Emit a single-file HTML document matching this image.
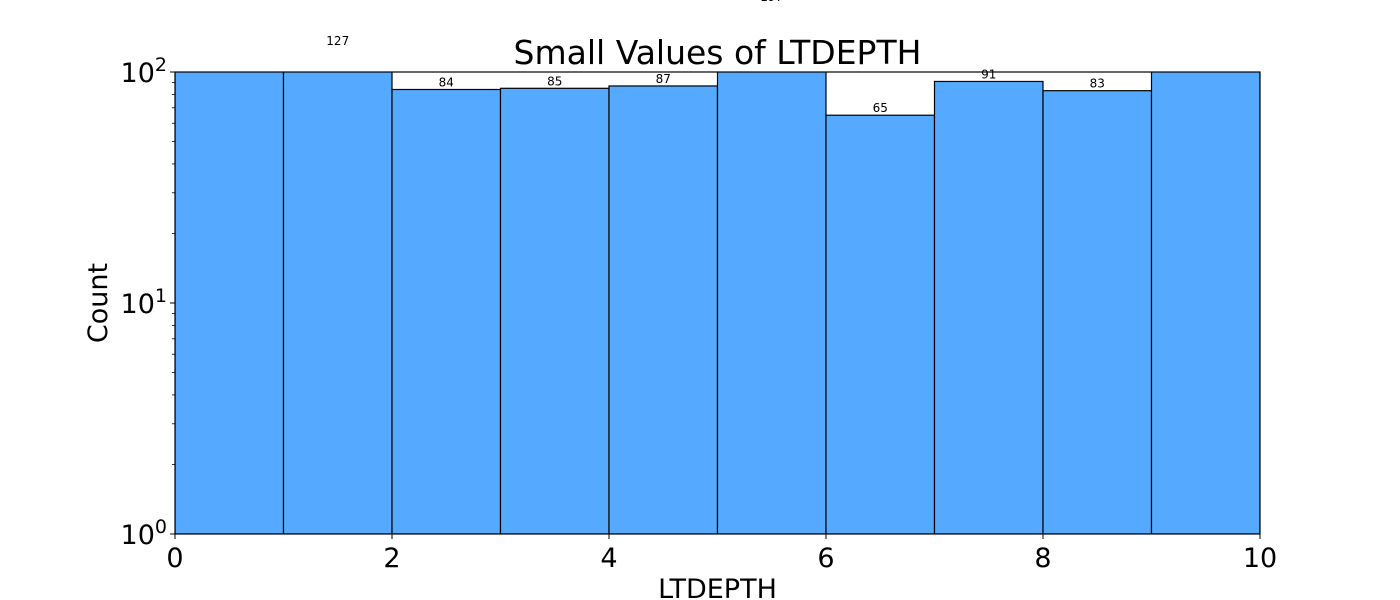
<!DOCTYPE html>
<html><head><meta charset="utf-8"><style>
html,body{margin:0;padding:0;background:#fff;}
svg{display:block;font-family:"DejaVu Sans","Liberation Sans",sans-serif;}
</style></head><body>
<svg id="chart" width="1400" height="600"></svg>
<script>
const binEdges = [0,1,2,3,4,5,6,7,8,9,10];
const counts = [400,127,84,85,87,197,65,91,83,300];
const xTicks = [0,2,4,6,8,10];
const yTicks = [0,1,2];

const NS='http://www.w3.org/2000/svg';
const svg=document.getElementById('chart');
const L=175,R=1260,T=72,B=534;
const xs=v=>L+(v-0)/(10-0)*(R-L);
const ys=v=>B-(Math.log10(v)-0)/(2-0)*(B-T);
function mk(tag,attrs,parent){const e=document.createElementNS(NS,tag);for(const k in attrs)e.setAttribute(k,attrs[k]);(parent||svg).appendChild(e);return e;}

const defs=mk('defs',{});
const cp=mk('clipPath',{id:'plotclip'},defs);
mk('rect',{x:L,y:T,width:R-L,height:B-T},cp);
const bars=mk('g',{'clip-path':'url(#plotclip)'});


counts.forEach((c,i)=>{
  const x0=xs(binEdges[i]),x1=xs(binEdges[i+1]),y=ys(c);
  const r=mk('rect',{x:x0,y:y,width:x1-x0,height:B-y,fill:'#55aaff',stroke:'#000','stroke-width':1.2},bars);
  
  
});
counts.forEach((c,i)=>{
  const t=mk('text',{x:(xs(binEdges[i])+xs(binEdges[i+1]))/2,y:ys(c)-3,'text-anchor':'middle','font-size':12});
  t.textContent=c;
  
  
});
const frame=mk('rect',{x:L,y:T,width:R-L,height:B-T,fill:'none',stroke:'#000','stroke-width':1.2});



xTicks.forEach(v=>{
  mk('line',{x1:xs(v),x2:xs(v),y1:B,y2:B+5,stroke:'#000'});
  const t=mk('text',{x:xs(v),y:B+33,'text-anchor':'middle','font-size':27});
  t.textContent=v;
  
  
});
yTicks.forEach(p=>{
  const y=ys(Math.pow(10,p));
  mk('line',{x1:L-5,x2:L,y1:y,y2:y,stroke:'#000'});
  const t=mk('text',{x:L-8,y:y+10,'text-anchor':'end','font-size':27});
  t.innerHTML='10<tspan dy="-11" font-size="19">'+p+'</tspan>';
  
  
});
for(let d=0;d<2;d++)for(let m=2;m<10;m++){
  const y=ys(m*Math.pow(10,d));
  mk('line',{x1:L-3,x2:L,y1:y,y2:y,stroke:'#000','stroke-width':0.8});
}
const title=mk('text',{x:(L+R)/2,y:64,'text-anchor':'middle','font-size':33});
title.textContent='Small Values of LTDEPTH';


const xl=mk('text',{x:(L+R)/2,y:598,'text-anchor':'middle','font-size':27});
xl.textContent='LTDEPTH';


const yl=mk('text',{x:107,y:(T+B)/2,'text-anchor':'middle','font-size':27,transform:'rotate(-90 107 '+((T+B)/2)+')'});
yl.textContent='Count';


</script>
</body></html>
